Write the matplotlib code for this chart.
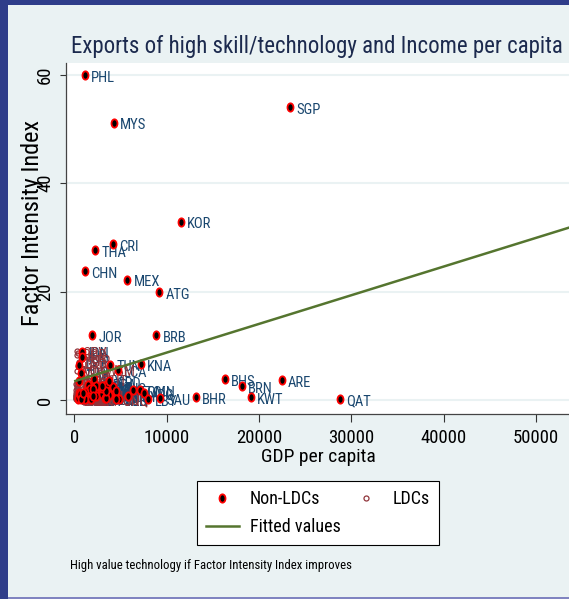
import matplotlib
matplotlib.use("Agg")
import matplotlib.pyplot as plt
from matplotlib import font_manager
from matplotlib.path import Path
from matplotlib.lines import Line2D
from matplotlib.patches import Rectangle
from matplotlib.transforms import Affine2D

# pick a narrow face if there is one (Stata text is squeezed)
installed = {f.name for f in font_manager.fontManager.ttflist}
narrow = [n for n in ["Liberation Sans Narrow", "Roboto Condensed", "Arial Narrow"] if n in installed]
font = narrow[0] if narrow else "Liberation Sans"
plt.rcParams["font.family"] = [font, "DejaVu Sans"]

# ---- data ----
non_ldc_labels = ["PHL", "SGP", "MYS", "KOR", "CRI", "THA", "CHN", "MEX", "ATG", "JOR",
                  "BRB", "BHS", "BRN", "ARE", "BHR", "KWT", "QAT", "IDN", "IND", "LKA",
                  "PAK", "TUN", "LCA", "KNA", "MUS", "TTO", "OMN", "SAU", "EGY", "MAR",
                  "VNM", "COL", "PER", "ECU", "GTM", "SLV", "HND", "NIC", "BOL", "PRY",
                  "DOM", "JAM", "BLZ", "PAN", "CHL", "ARG", "URY", "BRA", "VEN", "TUR",
                  "LBN", "SYR", "DZA", "NGA", "GHA", "KEN", "CIV", "CMR", "ZWE", "PNG",
                  "FJI", "BWA", "NAM", "GAB", "LBY", "GRD", "DMA", "VCT", "GUY"]
non_ldc_gdp = [1150, 23340, 4290, 11550, 4150, 2230, 1150, 5730, 9170, 1940,
               8870, 16320, 18160, 22460, 13140, 19130, 28780, 850, 850, 530,
               680, 3860, 4690, 7180, 4220, 6310, 7110, 9270, 1400, 1500,
               500, 2200, 2300, 1500, 1700, 2100, 1100, 800, 1000, 1300,
               2300, 3000, 3300, 3800, 4500, 7500, 5800, 3500, 4800, 3000,
               4500, 1200, 1800, 400, 350, 450, 700, 700, 600, 700,
               2000, 3400, 2000, 4500, 8000, 3800, 3400, 3000, 900]
non_ldc_fii = [60.0, 54.1, 51.2, 32.9, 28.7, 27.6, 23.8, 22.2, 19.9, 12.0,
               12.0, 3.9, 2.5, 3.6, 0.5, 0.5, 0.2, 8.9, 7.9, 6.5,
               4.9, 6.5, 5.5, 6.6, 2.3, 1.8, 1.8, 0.3, 1.2, 2.8,
               3.5, 1.5, 0.8, 0.5, 2.0, 3.9, 1.4, 0.6, 0.9, 0.3,
               2.6, 1.1, 0.4, 0.9, 1.0, 1.2, 0.8, 3.0, 0.2, 2.2,
               1.6, 0.2, 0.1, 0.1, 0.4, 1.3, 0.5, 0.6, 1.0, 0.2,
               2.1, 0.4, 0.8, 0.2, 0.2, 3.5, 1.6, 2.5, 1.2]

ldc_labels = ["AFG", "AGO", "BDI", "BEN", "BFA", "BGD", "BTN", "CAF", "COM", "COD",
              "DJI", "ERI", "ETH", "GIN", "GMB", "GNB", "GNQ", "HTI", "KHM", "KIR",
              "LAO", "LBR", "LSO", "MDG", "MLI", "MMR", "MOZ", "MRT", "MWI", "NER",
              "NPL", "RWA", "SDN", "SEN", "SLB", "SLE", "STP", "TCD", "TGO", "TZA",
              "UGA", "VUT", "WSM", "YEM", "ZMB", "CPV"]
ldc_gdp = [300, 3800, 150, 500, 400, 350, 2200, 350, 600, 120,
           1800, 200, 130, 400, 380, 220, 4600, 420, 330, 1200,
           380, 170, 500, 230, 310, 200, 330, 600, 160, 190,
           240, 270, 1500, 700, 650, 250, 800, 450, 350, 350,
           300, 2600, 2800, 1300, 650, 250]
ldc_fii = [0.2, 0.4, 0.3, 0.6, 0.2, 8.7, 0.8, 0.5, 1.2, 0.4,
           0.1, 3.0, 0.9, 0.5, 2.4, 0.2, 0.3, 6.2, 2.9, 4.1,
           1.5, 0.8, 7.0, 5.4, 0.3, 1.8, 2.0, 0.9, 1.2, 0.7,
           8.2, 2.2, 0.4, 1.6, 2.7, 1.4, 7.5, 0.1, 3.3, 1.0,
           2.5, 3.9, 5.6, 0.2, 0.6, 9.0]

fit_x = [100, 56000]
fit_y = [3.5, 33.1]

navy = "#1a476f"
maroon = "#90353b"
green = "#55752f"
bg = "#eaf2f3"

fig = plt.figure(figsize=(5.69, 5.99), dpi=100)
fig.patch.set_facecolor("#2f3d8a")
fig.patches.append(Rectangle((8 / 569, 2 / 599), 1, 592 / 599, transform=fig.transFigure,
                             facecolor=bg, edgecolor="none", zorder=-10))
fig.patches.append(Rectangle((8 / 569, 0), 1, 2 / 599, transform=fig.transFigure,
                             facecolor="#8084c0", edgecolor="none", zorder=-10))

ax = fig.add_axes([66 / 569, 1 - 414 / 599, 1 - 66 / 569, 351 / 599])
ax.set_facecolor("white")
ax.set_xlim(-910, 53560)
ax.set_ylim(-2.6, 62.2)

oval = Path.unit_circle().transformed(Affine2D().scale(0.72, 1.0))

# non-LDC labels first, LDCs over them, line on top
for lbl, x, y in zip(non_ldc_labels, non_ldc_gdp, non_ldc_fii):
    ax.annotate(lbl, (x, y), xytext=(4.5, -2), textcoords="offset points",
                fontsize=10.5, color=navy, va="center", ha="left", zorder=2)
for lbl, x, y in zip(ldc_labels, ldc_gdp, ldc_fii):
    ax.annotate(lbl, (x, y), xytext=(4, -2), textcoords="offset points",
                fontsize=10.5, color=maroon, va="center", ha="left", zorder=3)
ax.plot(ldc_gdp, ldc_fii, ls="none", marker="o", ms=3.6, mfc="none", mec=maroon,
        mew=0.9, zorder=4)
ax.plot(non_ldc_gdp, non_ldc_fii, ls="none", marker=oval, ms=6, mfc="black", mec="red",
        mew=1.3, zorder=5)
ax.plot(fit_x, fit_y, color=green, lw=1.8, zorder=6)

ax.set_xticks([0, 10000, 20000, 30000, 40000, 50000])
ax.set_yticks([0, 20, 40, 60])
ax.tick_params(axis="x", length=6, width=0.8, pad=5, labelsize=13.5, color="#333333")
ax.tick_params(axis="y", length=4.5, width=0.8, pad=4, labelsize=13.5, color="#333333")
plt.setp(ax.get_yticklabels(), rotation=90, va="center")
ax.yaxis.grid(True, color=bg, lw=1.5)
ax.set_axisbelow(True)
for s in ["top", "right"]:
    ax.spines[s].set_visible(False)
for s in ["left", "bottom"]:
    ax.spines[s].set_color("#444444")
    ax.spines[s].set_linewidth(0.9)

ax.set_xlabel("GDP per capita", fontsize=14, va="center")
ax.xaxis.set_label_coords(0.501, -0.123)
ax.set_ylabel("Factor Intensity Index", fontsize=17.5, va="center")
ax.yaxis.set_label_coords(-0.066, 0.545)

fig.text(317 / 569, 1 - 53.5 / 599, "Exports of high skill/technology and Income per capita",
         fontsize=16.5, color="#1c2a4e", ha="center", va="baseline")

h_non = Line2D([], [], ls="none", marker=oval, ms=6, mfc="black", mec="red", mew=1.3)
h_ldc = Line2D([], [], ls="none", marker="o", ms=3.6, mfc="none", mec=maroon, mew=0.9)
h_fit = Line2D([], [], color=green, lw=1.8)
leg = fig.legend([h_non, h_fit, h_ldc], ["Non-LDCs", "Fitted values", "LDCs"], ncol=2,
                 loc="center", bbox_to_anchor=(318 / 569, 1 - 513 / 599), fontsize=13,
                 frameon=True, fancybox=False, edgecolor="black", framealpha=1,
                 handlelength=1.8, handletextpad=0.6, columnspacing=0.5,
                 labelspacing=0.55, borderpad=0.5)
leg.get_frame().set_linewidth(0.8)

fig.text(70 / 569, 1 - 566 / 599, "High value technology if Factor Intensity Index improves",
         fontsize=9.2, ha="left", va="center")

fig.savefig("out.png", dpi=100, facecolor=fig.get_facecolor())
